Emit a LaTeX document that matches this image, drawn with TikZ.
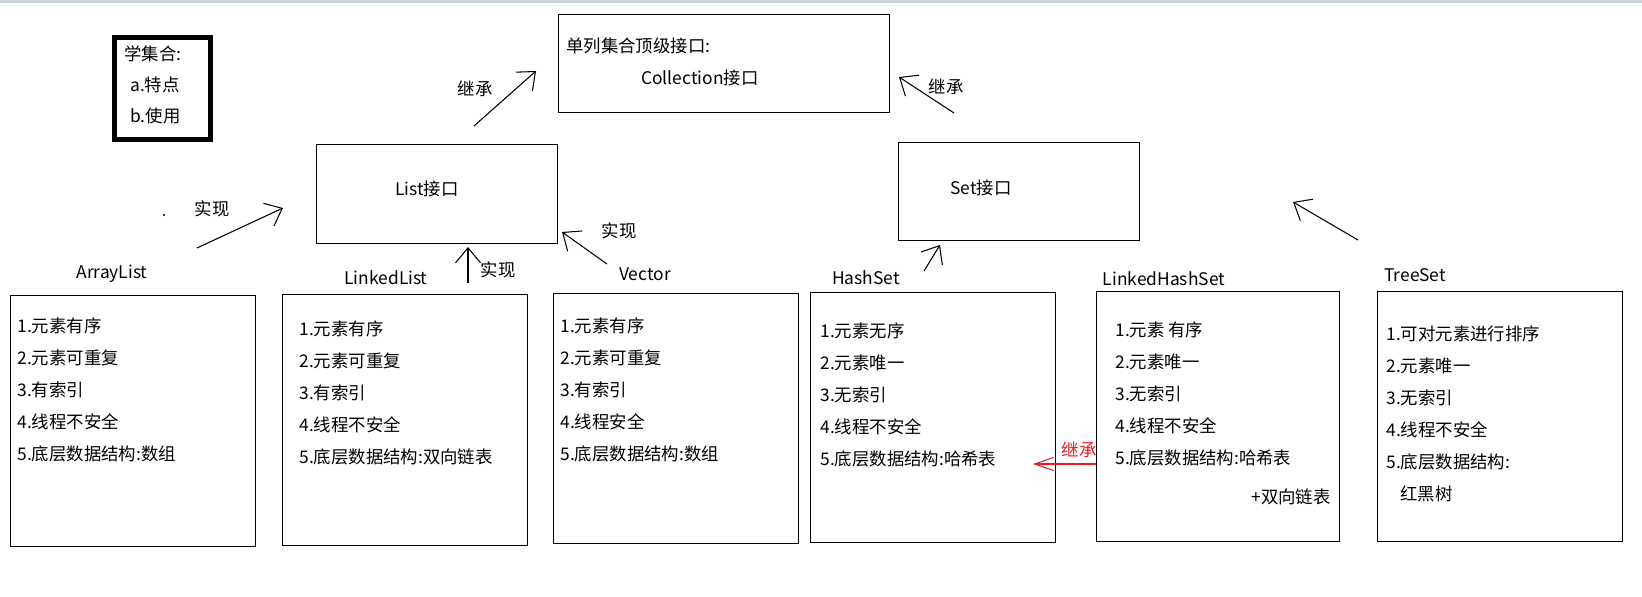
\documentclass[tikz,border=0pt]{standalone}
\usepackage{fontspec}
\setmainfont{Noto Sans CJK SC}
\usetikzlibrary{arrows.meta}
\definecolor{paintred}{RGB}{237,28,36}
\definecolor{barblue}{RGB}{200,208,225}

\begin{document}
\begin{tikzpicture}[x=0.02cm,y=-0.02cm,
    every node/.style={font=\fontsize{9.9}{12}\selectfont},
    box/.style={draw,line width=0.8pt,anchor=north west,inner sep=0pt},
    items/.style={anchor=north west,inner sep=0pt,align=left,font=\fontsize{9.9}{18.2}\selectfont},
    arr/.style={line width=0.6pt,-{Straight Barb[length=0.3cm,width=0.5cm]}},
    redarr/.style={draw=paintred,line width=0.6pt,-{Straight Barb[length=0.38cm,width=0.26cm]}}] %
    \useasboundingbox (0,0) rectangle (1642,597);
    \fill[barblue] (0,0) rectangle (1642,3);
    % note box
    \node[draw,line width=0.094cm,minimum width=1.92cm,minimum height=2.04cm] (learn) at (162.5,88.3) {} ; %
    \node[items,font=\fontsize{9.9}{17.6}\selectfont] (learntxt) at (124,45.5) {学集合:\\\hspace*{0.12cm}a.特点\\\hspace*{0.12cm}b.使用};
    % interfaces
    \node[box,minimum width=6.62cm,minimum height=1.96cm] (collection) at (558,14) {} ; %
    \node[anchor=west,inner sep=0pt] (colltop) at (566,46) {单列集合顶级接口:};
    \node[anchor=west,inner sep=0pt] (colltxt) at (641,78) {Collection接口};
    \node[box,minimum width=4.82cm,minimum height=1.98cm] (list) at (316,144) {} ; %
    \node (listtxt) at (427,189) {List接口};
    \node[box,minimum width=4.82cm,minimum height=1.96cm] (set) at (898,142) {} ; %
    \node (settxt) at (981,188) {Set接口};
    % classes
    \node[anchor=base] (arraylist) at (112,279) {ArrayList};
    \node[box,minimum width=4.9cm,minimum height=5.02cm] (arraybox) at (10,295) {};
    \node[items] (arraytxt) at (17,317.5) {1.元素有序\\2.元素可重复\\3.有索引\\4.线程不安全\\5.底层数据结构:数组};
    \node[anchor=base] (linkedlist) at (386,285) {LinkedList};
    \node[box,minimum width=4.9cm,minimum height=5.02cm] (linkedbox) at (282,294) {};
    \node[items] (linkedtxt) at (299,320.5) {1.元素有序\\2.元素可重复\\3.有索引\\4.线程不安全\\5.底层数据结构:双向链表};
    \node[anchor=base] (vector) at (645,281) {Vector};
    \node[box,minimum width=4.9cm,minimum height=5cm] (vectorbox) at (553,293) {};
    \node[items] (vectortxt) at (560,317.5) {1.元素有序\\2.元素可重复\\3.有索引\\4.线程安全\\5.底层数据结构:数组};
    \node[anchor=base] (hashset) at (866,285) {HashSet};
    \node[box,minimum width=4.9cm,minimum height=5cm] (hashbox) at (810,292) {};
    \node[items] (hashtxt) at (820,322.5) {1.元素无序\\2.元素唯一\\3.无索引\\4.线程不安全\\5.底层数据结构:哈希表};
    \node[text=paintred] (redlbl) at (1079,450) {继承};
    \node[anchor=base] (linkedhashset) at (1164,286) {LinkedHashSet};
    \node[box,fill=white,minimum width=4.86cm,minimum height=5cm] (lhashbox) at (1096,291) {};
    \node[items] (lhashtxt) at (1115,321.5) {1.元素 有序\\2.元素唯一\\3.无索引\\4.线程不安全\\5.底层数据结构:哈希表};
    \node[anchor=east,inner sep=0pt] (lhashplus) at (1331,497) {+双向链表};
    \node[anchor=base] (treeset) at (1415,282) {TreeSet};
    \node[box,minimum width=4.9cm,minimum height=5cm] (treebox) at (1377,291) {};
    \node[items] (treetxt) at (1386,325.5) {1.可对元素进行排序\\2.元素唯一\\3.无索引\\4.线程不安全\\5.底层数据结构:\\\hspace*{0.28cm}红黑树};
    % arrows
    \coordinate (li0) at (474,126); \coordinate (li1) at (536,71);
    \coordinate (si0) at (954,113); \coordinate (si1) at (899,77);
    \coordinate (ai0) at (197,248); \coordinate (ai1) at (283,208);
    \coordinate (ki0) at (468,283); \coordinate (ki1) at (468,247);
    \coordinate (vi0) at (607,264); \coordinate (vi1) at (562,232);
    \coordinate (hi0) at (924,271); \coordinate (hi1) at (940,245);
    \coordinate (ti0) at (1358,240); \coordinate (ti1) at (1293,202);
    \coordinate (ri1) at (1033,464);
    \draw[arr] (li0) -- (li1);
    \draw[arr] (si0) -- (si1);
    \draw[arr] (ai0) -- (ai1);
    \draw[arr] (ki0) -- (ki1);
    \draw[arr] (vi0) -- (vi1);
    \draw[arr] (hi0) -- (hi1);
    \draw[arr] (ti0) -- (ti1);
    \draw[redarr] (lhashbox.west |- ri1) -- (ri1);
    \node (li) at (475,89) {继承};
    \node (si) at (946,87) {继承};
    \node (ai) at (212,209) {实现};
    \node (ki) at (498,270) {实现};
    \node (vi) at (619,231) {实现};
    \fill (164,215) circle (0.6pt);
  \end{tikzpicture}
\end{document}
